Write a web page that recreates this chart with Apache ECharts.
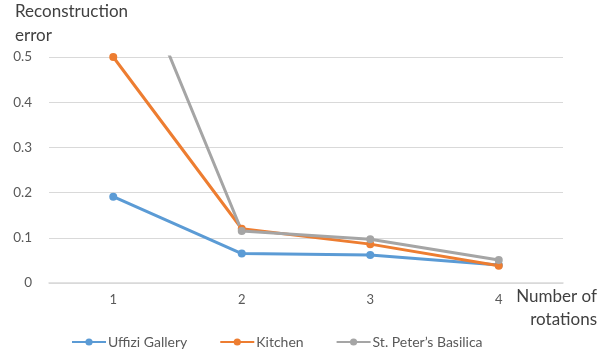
<!DOCTYPE html>
<html>
<head>
<meta charset="utf-8">
<script src="https://cdn.jsdelivr.net/npm/echarts@6/dist/echarts.min.js"></script>
<style>
  html, body { margin: 0; padding: 0; background: #fff; }
  #chart { width: 607px; height: 355px; }
</style>
</head>
<body>
<div id="chart"></div>
<script>
// Reconstruction error versus number of rotations
const rotations = ['1', '2', '3', '4'];
const uffiziGallery = [0.191, 0.065, 0.062, 0.040];
const kitchen = [0.500, 0.120, 0.086, 0.038];
const stPetersBasilica = [0.805, 0.115, 0.097, 0.051];
const yTicks = [0, 0.1, 0.2, 0.3, 0.4, 0.5];

const FONT = 'Lato, "Liberation Sans", sans-serif';
const TEXT = '#595959';

function lineSeries(name, data, color) {
  return {
    name: name,
    type: 'line',
    data: data,
    clip: true,
    symbol: 'circle',
    symbolSize: 8,
    lineStyle: { width: 3, color: color },
    itemStyle: { color: color },
    emphasis: { disabled: true }
  };
}

const chart = echarts.init(document.getElementById('chart'), null, { renderer: 'canvas' });
chart.setOption({
  animation: false,
  textStyle: { fontFamily: FONT },
  grid: { left: 49, right: 44, top: 55, bottom: 72, containLabel: false },
  legend: {
    top: 330,
    left: 66,
    itemGap: 32,
    itemWidth: 34,
    itemHeight: 9,
    textStyle: { color: TEXT, fontSize: 14, fontFamily: FONT, padding: [0, 0, 0, -3] },
    data: ['Uffizi Gallery', 'Kitchen', 'St. Peter\u2019s Basilica']
  },
  xAxis: {
    type: 'category',
    data: rotations,
    boundaryGap: true,
    name: 'Number of\nrotations',
    nameLocation: 'end',
    nameGap: 34,
    nameTextStyle: {
      color: '#404040', fontSize: 17, fontFamily: FONT,
      align: 'right', verticalAlign: 'top', lineHeight: 23, padding: [2, 0, 0, 0]
    },
    axisLine: { show: true, lineStyle: { color: '#d9d9d9', width: 1.5 } },
    axisTick: { show: false },
    axisLabel: { color: TEXT, fontSize: 13, margin: 10 }
  },
  yAxis: {
    type: 'value',
    min: yTicks[0],
    max: yTicks[yTicks.length - 1],
    interval: 0.1,
    name: 'Reconstruction\nerror',
    nameLocation: 'end',
    nameGap: 9,
    nameTextStyle: {
      color: '#404040', fontSize: 17, fontFamily: FONT,
      align: 'left', verticalAlign: 'bottom', lineHeight: 24, padding: [0, 0, 0, -34]
    },
    axisLine: { show: false },
    axisTick: { show: false },
    splitLine: { lineStyle: { color: '#d9d9d9', width: 1 } },
    axisLabel: {
      color: TEXT, fontSize: 13.5, margin: 17,
      formatter: function (v) { return v === 0 ? '0' : v.toFixed(1); }
    }
  },
  series: [
    lineSeries('Uffizi Gallery', uffiziGallery, '#5B9BD5'),
    lineSeries('Kitchen', kitchen, '#ED7D31'),
    lineSeries('St. Peter\u2019s Basilica', stPetersBasilica, '#A5A5A5')
  ]
});
</script>
</body>
</html>
